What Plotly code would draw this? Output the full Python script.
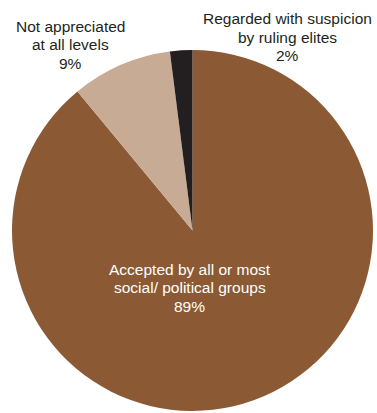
import plotly.graph_objects as go

# Share of responses by category
labels = [
    "Accepted by all or most<br>social/ political groups",
    "Not appreciated<br>at all levels",
    "Regarded with suspicion<br>by ruling elites",
]
values = [89, 9, 2]
colors = ["#8B5A35", "#C8AB95", "#231F20"]

fig = go.Figure(
    go.Pie(
        labels=labels,
        values=values,
        marker=dict(colors=colors, line=dict(width=0)),
        sort=False,
        direction="clockwise",
        rotation=0,
        textinfo="none",
        hoverinfo="label+percent",
        showlegend=False,
    )
)

# Label block centres in paper coordinates and text colour
label_pos = [(0.493, 0.341, "white"), (0.161, 1.014, "#231F20"), (0.762, 1.036, "#231F20")]
line_gap = 18.5  # px between text lines
for lab, val, (x, y, col) in zip(labels, values, label_pos):
    lines = lab.split("<br>") + [f"{val}%"]
    n = len(lines)
    for i, line in enumerate(lines):
        fig.add_annotation(
            x=x, y=y, xref="paper", yref="paper",
            text=line,
            showarrow=False,
            font=dict(family="Liberation Sans, Arial, sans-serif", size=15.5, color=col),
            xanchor="center", yanchor="middle",
            yshift=((n - 1) / 2 - i) * line_gap,
        )

fig.update_layout(
    width=377, height=413,
    margin=dict(l=12, r=4, t=50, b=2),
    paper_bgcolor="white",
    plot_bgcolor="white",
)

fig.write_html("out.html")
